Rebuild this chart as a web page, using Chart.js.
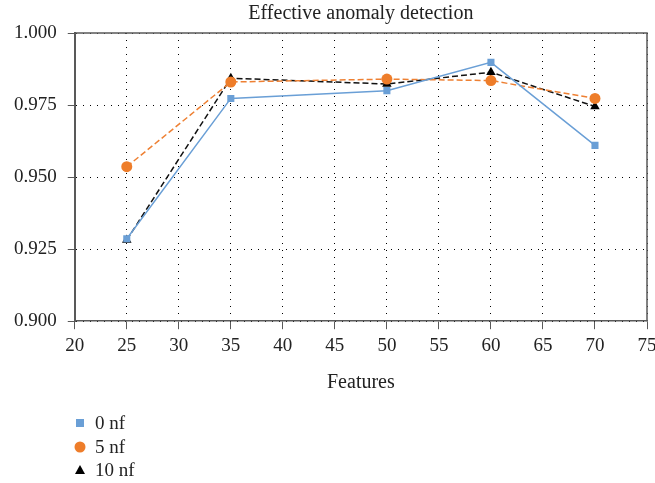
<!DOCTYPE html>
<html>
<head>
<meta charset="utf-8">
<script src="https://cdn.jsdelivr.net/npm/chart.js@4/dist/chart.umd.min.js"></script>
<style>
  html, body { margin: 0; padding: 0; background: #fff; }
  #wrap { width: 655px; height: 483px; }
</style>
</head>
<body>
<div id="wrap"><canvas id="chart" width="655" height="483"></canvas></div>
<script>
// data
const features = [25, 35, 50, 60, 70];
const nf0 = [0.9286, 0.9773, 0.9800, 0.9898, 0.9610];
const nf5 = [0.9536, 0.9830, 0.9840, 0.9835, 0.9773];
const nf10 = [0.9282, 0.9843, 0.9823, 0.9864, 0.9745];
const seriesNames = ['0 nf', '5 nf', '10 nf'];
const chartTitle = 'Effective anomaly detection';
const xTitle = 'Features';

const SERIF = "'Liberation Serif', 'DejaVu Serif', serif";

function pts(ys) {
    return features.map((x, i) => ({ x: x, y: ys[i] }));
}

// title over the plot area, plot frame, and a vertical legend under the axis
const extras = {
    id: 'extras',
    afterDraw(chart) {
        const ctx = chart.ctx;
        const a = chart.chartArea;
        ctx.save();
        // frame on top and right
        ctx.strokeStyle = '#595959';
        ctx.lineWidth = 1.5;
        ctx.beginPath();
        ctx.moveTo(a.left, a.top);
        ctx.lineTo(a.right, a.top);
        ctx.lineTo(a.right, a.bottom);
        ctx.stroke();

        ctx.fillStyle = '#222';
        ctx.font = '20px ' + SERIF;
        ctx.textAlign = 'center';
        ctx.textBaseline = 'middle';
        ctx.fillText(chartTitle, (a.left + a.right) / 2, 14);

        // legend
        ctx.font = '19px ' + SERIF;
        ctx.textAlign = 'left';
        const lx = 80, ly = [423, 447, 470];
        chart.data.datasets.forEach((ds, i) => {
            const y = ly[i];
            ctx.fillStyle = ds.backgroundColor;
            if (ds.pointStyle === 'rect') {
                ctx.fillRect(lx - 4, y - 4, 8, 8);
            } else if (ds.pointStyle === 'circle') {
                ctx.beginPath();
                ctx.arc(lx, y, 5.5, 0, Math.PI * 2);
                ctx.fill();
            } else {
                ctx.beginPath();
                ctx.moveTo(lx, y - 5);
                ctx.lineTo(lx + 5, y + 4);
                ctx.lineTo(lx - 5, y + 4);
                ctx.closePath();
                ctx.fill();
            }
            ctx.fillStyle = '#222';
            ctx.fillText(ds.label, lx + 15, y + 1);
        });
        ctx.restore();
    }
};

const ctx = document.getElementById('chart').getContext('2d');
new Chart(ctx, {
    type: 'line',
    data: {
        datasets: [{
            label: seriesNames[0],
            data: pts(nf0),
            borderColor: '#6a9fd6',
            backgroundColor: '#6a9fd6',
            borderWidth: 1.5,
            pointStyle: 'rect',
            pointRadius: 5,
            pointBorderWidth: 0
        }, {
            label: seriesNames[1],
            data: pts(nf5),
            borderColor: '#ee8033',
            backgroundColor: '#ee7d2a',
            borderWidth: 1.5,
            borderDash: [6, 3],
            pointStyle: 'circle',
            pointRadius: 5.5,
            pointBorderWidth: 0
        }, {
            label: seriesNames[2],
            data: pts(nf10),
            borderColor: '#111',
            backgroundColor: '#000',
            borderWidth: 1.5,
            borderDash: [6, 3],
            pointStyle: 'triangle',
            pointRadius: 5.5,
            pointBorderWidth: 0
        }]
    },
    options: {
        responsive: false,
        animation: false,
        layout: { padding: { top: 33, right: 8, bottom: 88, left: 3 } },
        plugins: {
            legend: { display: false },
            title: { display: false },
            tooltip: { enabled: false }
        },
        scales: {
            x: {
                type: 'linear',
                min: 20,
                max: 75,
                afterFit: s => { s.paddingRight = 0; },
                ticks: {
                    stepSize: 5,
                    color: '#222',
                    font: { family: SERIF, size: 19 },
                    padding: 5,
                    maxRotation: 0
                },
                grid: {
                    color: '#000',
                    lineWidth: 1,
                    tickLength: 8,
                    tickColor: '#595959',
                    tickBorderDash: []
                },
                border: { color: '#595959', width: 1.5, dash: [1, 6] },
                title: {
                    display: true,
                    text: xTitle,
                    color: '#222',
                    font: { family: SERIF, size: 20 },
                    padding: { top: 9, bottom: 0 }
                }
            },
            y: {
                min: 0.9,
                max: 1.0,
                ticks: {
                    stepSize: 0.025,
                    color: '#222',
                    font: { family: SERIF, size: 19 },
                    padding: 11,
                    callback: v => v.toFixed(3)
                },
                grid: {
                    color: '#000',
                    lineWidth: 1,
                    tickLength: 7,
                    tickColor: '#595959',
                    tickBorderDash: []
                },
                border: { color: '#595959', width: 2, dash: [1, 6] }
            }
        }
    },
    plugins: [extras]
});
</script>
</body>
</html>
